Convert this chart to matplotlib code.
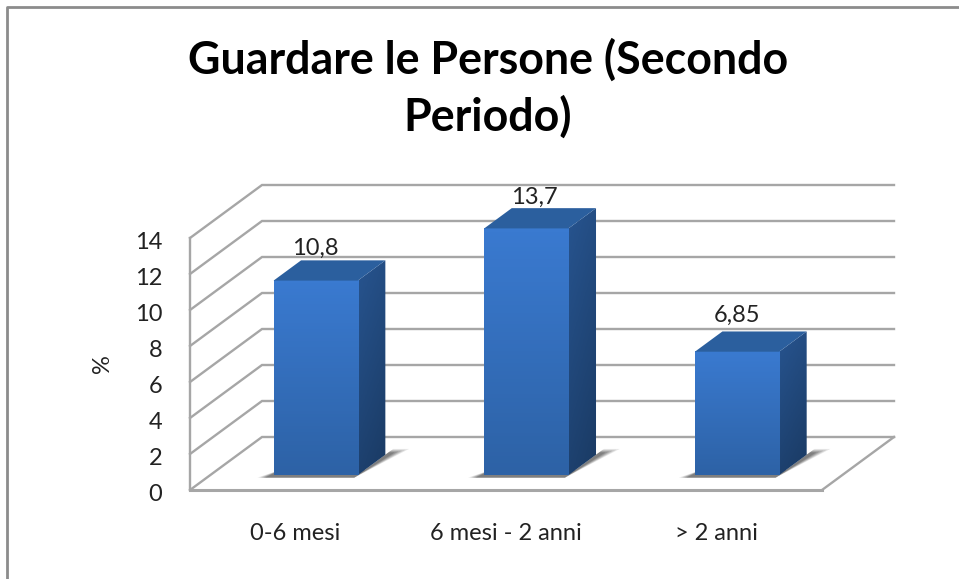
import numpy as np
import matplotlib
matplotlib.use("Agg")
import matplotlib.pyplot as plt
from matplotlib.patches import Polygon
from matplotlib.colors import LinearSegmentedColormap
from matplotlib.transforms import ScaledTranslation

plt.rcParams['font.family'] = ['Lato', 'DejaVu Sans']

categories = ["0-6 mesi", "6 mesi - 2 anni", "> 2 anni"]
values = [10.8, 13.7, 6.85]
value_labels = ["10,8", "13,7", "6,85"]
yticks = [0, 2, 4, 6, 8, 10, 12, 14]
title = "Guardare le Persone (Secondo\nPeriodo)"

W, H = 959, 579
# depth of the floor in data units
DX = 72 / 210.67
DY = 53 / 18.0
BAR_W = 0.4
D0, D1 = 0.283, 0.665
GRID = "#a6a6a6"
TXT = "#222222"
# small nudge of each value label, in points
label_nudge = [(0, 1), (6, 0), (0, 4)]

fig = plt.figure(figsize=(W / 100, H / 100), dpi=100)
ax = fig.add_axes([190 / W, 1 - 490 / H, 632 / W, 252 / H])
ax.set_xlim(-0.5, 2.5)
ax.set_ylim(0, 14)
ax.patch.set_alpha(0)
for s in ax.spines.values():
    s.set_visible(False)


def proj(x, y, d):
    return (x + d * DX, y + d * DY)


# frame of the picture
bg = fig.add_axes([0, 0, 1, 1], zorder=-1)
bg.set_xlim(0, W)
bg.set_ylim(H, 0)
bg.axis("off")
bg.plot([7, 7, 959], [579, 7, 7], color="#8c8c8c", lw=2)

# walls and floor
x0, x1 = -0.5, 2.5
for v in yticks:
    a = proj(x0, v, 0)
    b = proj(x0, v, 1)
    c = proj(x1, v, 1)
    ax.plot([a[0], b[0], c[0]], [a[1], b[1], c[1]], color=GRID, lw=1.7,
            clip_on=False, zorder=1, solid_joinstyle="miter")
ax.plot([x0, x0], [0, 14], color=GRID, lw=1.7, clip_on=False, zorder=1)
ax.plot([x0, x1], [0, 0], color=GRID, lw=2.2, clip_on=False, zorder=1)
f = proj(x1, 0, 1)
ax.plot([x1, f[0]], [0, f[1]], color=GRID, lw=1.7, clip_on=False, zorder=1)

front_cm = LinearSegmentedColormap.from_list("f", ["#3a7ad0", "#2d62a6"])
side_cm = LinearSegmentedColormap.from_list("s", ["#27548f", "#1a3a63"])
grad = np.linspace(0, 1, 64).reshape(-1, 1)
# side gets darker to the lower right
side_grad = np.add.outer(np.linspace(0, 0.75, 64), np.linspace(0, 0.25, 16))

for i, v in enumerate(values):
    xl = i - BAR_W / 2
    xr = i + BAR_W / 2
    # soft shadow on the floor, a few stacked layers
    for k, a in zip([1.0, 0.85, 0.7, 0.55, 0.4], [0.12, 0.16, 0.2, 0.24, 0.28]):
        sh = [proj(xl - 0.06 * k, 0, D0 - 0.05), proj(xr, 0, D0 - 0.05),
              proj(xr + 0.075 * k, 0, D1 + 0.11 * k), proj(xr, 0, D1 + 0.11 * k),
              proj(xr, 0, D0 + 0.1), proj(xl, 0, D0 + 0.1)]
        ax.add_patch(Polygon(sh, closed=True, fc="#444444", ec="none", alpha=a,
                             clip_on=False, zorder=2))

    # front
    fl = proj(xl, 0, D0)
    fr = proj(xr, v, D0)
    ax.imshow(grad, cmap=front_cm, aspect="auto", extent=[fl[0], fr[0], fl[1], fr[1]],
              origin="upper", zorder=4, clip_on=False)
    # side
    side = Polygon([proj(xr, 0, D0), proj(xr, v, D0), proj(xr, v, D1), proj(xr, 0, D1)],
                   closed=True, fc="none", ec="none", zorder=3)
    ax.add_patch(side)
    side.set_clip_on(False)
    br = proj(xr, v, D1)
    im = ax.imshow(side_grad, cmap=side_cm, aspect="auto", vmin=0, vmax=1,
                   extent=[fr[0], br[0], fl[1], br[1]], origin="upper", zorder=3)
    im.set_clip_on(True)
    im.set_clip_box(fig.bbox)
    im.set_clip_path(side)
    # top
    ax.add_patch(Polygon([proj(xl, v, D0), proj(xr, v, D0), proj(xr, v, D1), proj(xl, v, D1)],
                         closed=True, fc="#2b5f9e", ec="none", clip_on=False, zorder=5))
    top = proj(i, v, D1)
    front_x = proj(i, v, D0)[0]
    ax.annotate(value_labels[i], xy=(front_x, top[1]), xytext=label_nudge[i],
                textcoords="offset points", ha="center", va="bottom",
                fontsize=17, color=TXT, zorder=6, annotation_clip=False)

ax.set_xlim(-0.5, 2.5)
ax.set_ylim(0, 14)
ax.set_xticks(range(len(categories)), categories)
ax.set_yticks(yticks)
ax.tick_params(axis="both", length=0, labelsize=17, labelcolor=TXT)
ax.tick_params(axis="x", pad=24)
ax.tick_params(axis="y", pad=20)
# tick numbers sit a little lower than the lines
shift = ScaledTranslation(0, -2 / 72, fig.dpi_scale_trans)
for lab in ax.get_yticklabels():
    lab.set_transform(lab.get_transform() + shift)
ax.set_ylabel("%", fontsize=17, color=TXT, labelpad=16)

fig.text(488 / W, 1 - 88.5 / H, title, ha="center", va="center", fontsize=32.2,
         fontweight="bold", color="black", linespacing=1.36)

fig.savefig("out.png", dpi=100)
